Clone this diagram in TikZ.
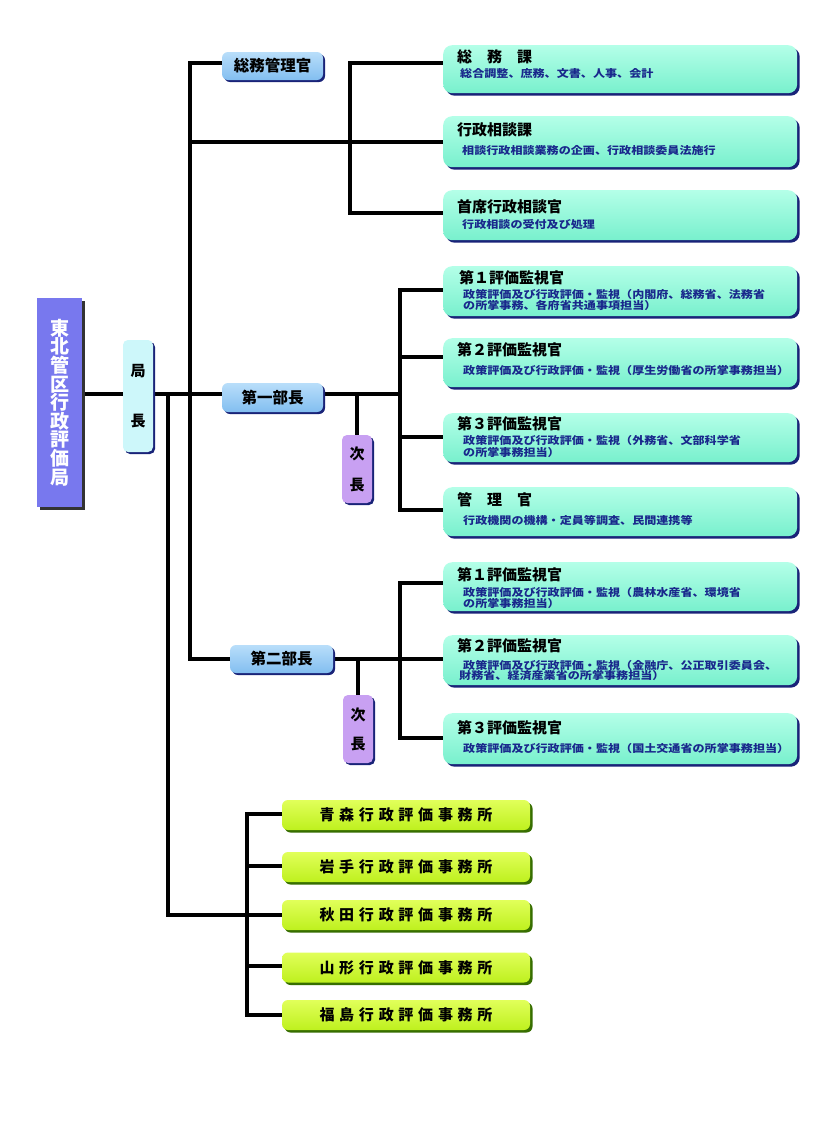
\documentclass[tikz,border=0pt]{standalone}
\usepackage{fontspec}
\setmainfont{Noto Sans CJK JP}
\newfontfamily\descfont[FakeStretch=1.15]{Noto Sans CJK JP}
\usetikzlibrary{shadows,calc,backgrounds}
\definecolor{navysh}{RGB}{25,35,120}
\definecolor{descblue}{RGB}{25,40,140}
\definecolor{tealtop}{RGB}{180,255,232}
\definecolor{tealbot}{RGB}{120,240,205}
\definecolor{bluetop}{RGB}{185,222,250}
\definecolor{bluebot}{RGB}{130,190,240}
\definecolor{kyokufill}{RGB}{205,247,250}
\definecolor{jifill}{RGB}{200,160,242}
\definecolor{tohokufill}{RGB}{120,120,238}
\definecolor{ygtop}{RGB}{225,255,90}
\definecolor{ygbot}{RGB}{190,240,30}
\definecolor{greensh}{RGB}{55,110,0}
\newcommand\ks{\kern4.75pt}
\begin{document}
\begin{tikzpicture}[x=1pt,y=-1pt,
  conn/.style={line width=3.2pt, line join=miter, line cap=rect},
  tealbox/.style={anchor=north west, rounded corners=9pt, top color=tealtop, bottom color=tealbot,
    minimum width=354pt, inner sep=0pt,
    drop shadow={shadow xshift=2.5pt, shadow yshift=-2.5pt, fill=navysh, opacity=1}},
  ttl/.style={anchor=west, inner sep=0pt, font=\fontsize{15}{15}\selectfont\bfseries},
  dsc/.style={anchor=west, inner sep=0pt, text=descblue, font=\descfont\fontsize{10.5}{10}\selectfont\bfseries},
  bluebox/.style={rounded corners=6pt, top color=bluetop, bottom color=bluebot, inner sep=0pt,
    font=\fontsize{15.5}{16}\selectfont\bfseries,
    drop shadow={shadow xshift=2pt, shadow yshift=-2pt, fill=navysh, opacity=1}},
  vbox/.style={rounded corners=5pt, inner sep=0pt, align=center, minimum width=30pt,
    font=\fontsize{15}{15}\selectfont\bfseries,
    drop shadow={shadow xshift=2pt, shadow yshift=-2pt, fill=navysh, opacity=1}},
  ygbox/.style={rounded corners=6pt, top color=ygtop, bottom color=ygbot, inner sep=0pt,
    minimum width=248pt, minimum height=30pt, font=\fontsize{15}{15}\selectfont\bfseries,
    drop shadow={shadow xshift=2.5pt, shadow yshift=-2.5pt, fill=greensh, opacity=1}}
]
\useasboundingbox (0,0) rectangle (820,1133);

% junction coordinates
\coordinate (m1) at (190,63);
\coordinate (m2) at (190,142);
\coordinate (m3) at (190,394);
\coordinate (m4) at (190,659);
\coordinate (v1) at (168,394);
\coordinate (v2) at (168,915);
\coordinate (s1) at (350,63);
\coordinate (s2) at (350,213);
\coordinate (b1) at (400,290);
\coordinate (b2) at (400,357);
\coordinate (b3) at (400,394);
\coordinate (b4) at (400,437);
\coordinate (b5) at (400,510);
\coordinate (j1) at (357,394);
\coordinate (c1) at (400,583);
\coordinate (c2) at (400,659);
\coordinate (c3) at (400,738);
\coordinate (j2) at (358,659);
\coordinate (d1) at (247,814);
\coordinate (d2) at (247,866);
\coordinate (d3) at (247,915);
\coordinate (d4) at (247,966);
\coordinate (d5) at (247,1015);

% nodes (boxes)
\node[fill=tohokufill, minimum width=45pt, minimum height=209pt, inner sep=0pt, align=center,
  text=white, font=\fontsize{19}{18.6}\selectfont\bfseries,
  drop shadow={shadow xshift=3pt, shadow yshift=-3pt, fill=black!80, opacity=1}]
  (tohoku) at (59.5,402.5) {東\\北\\管\\区\\行\\政\\評\\価\\局};
\node[vbox, fill=kyokufill, minimum height=112pt, font=\fontsize{15}{50}\selectfont\bfseries] (kyoku) at (138,396) {局\\長};
\node[bluebox, minimum width=101pt, minimum height=28pt] (somu) at (272.5,66) {総務管理官};
\node[bluebox, minimum width=101pt, minimum height=29pt] (bu1) at (272.5,397.5) {第一部長};
\node[bluebox, minimum width=103pt, minimum height=28pt] (bu2) at (281.5,659) {第二部長};
\node[vbox, fill=jifill, minimum height=68pt, font=\fontsize{15}{31}\selectfont\bfseries] (ji1) at (357,469) {次\\長};
\node[vbox, fill=jifill, minimum height=68pt, font=\fontsize{15}{29}\selectfont\bfseries] (ji2) at (358,729) {次\\長};

\node[tealbox, minimum height=48pt] (k1) at (443,45) {};
\node[tealbox, minimum height=51pt] (k2) at (443,116) {};
\node[tealbox, minimum height=50pt] (k3) at (443,190) {};
\node[tealbox, minimum height=50pt] (k4) at (443,266) {};
\node[tealbox, minimum height=49pt] (k5) at (443,338) {};
\node[tealbox, minimum height=49pt] (k6) at (443,413) {};
\node[tealbox, minimum height=49pt] (k7) at (443,487) {};
\node[tealbox, minimum height=49pt] (k8) at (443,562) {};
\node[tealbox, minimum height=50pt] (k9) at (443,635) {};
\node[tealbox, minimum height=51pt] (k10) at (443,713) {};

\node[ygbox] (y1) at (406,815) {青\ks 森\ks 行\ks 政\ks 評\ks 価\ks 事\ks 務\ks 所};
\node[ygbox] (y2) at (406,867) {岩\ks 手\ks 行\ks 政\ks 評\ks 価\ks 事\ks 務\ks 所};
\node[ygbox] (y3) at (406,915) {秋\ks 田\ks 行\ks 政\ks 評\ks 価\ks 事\ks 務\ks 所};
\node[ygbox] (y4) at (406,967.5) {山\ks 形\ks 行\ks 政\ks 評\ks 価\ks 事\ks 務\ks 所};
\node[ygbox] (y5) at (406,1015) {福\ks 島\ks 行\ks 政\ks 評\ks 価\ks 事\ks 務\ks 所};

% texts in teal boxes
\node[ttl] (k1t) at (457,57) {総　務　課};
\node[dsc] (k1d) at (460,74) {総合調整、庶務、文書、人事、会計};
\node[ttl] (k2t) at (457,130) {行政相談課};
\node[dsc] (k2d) at (462,150) {相談行政相談業務の企画、行政相談委員法施行};
\node[ttl] (k3t) at (457,207) {首席行政相談官};
\node[dsc] (k3d) at (462,225) {行政相談の受付及び処理};
\node[ttl] (k4t) at (459,278) {第１評価監視官};
\node[dsc] (k4d) at (463,294) {政策評価及び行政評価・監視（内閣府、総務省、法務省};
\node[dsc] (k4e) at (463,305) {の所掌事務、各府省共通事項担当）};
\node[ttl] (k5t) at (457,350) {第２評価監視官};
\node[dsc] (k5d) at (463,370) {政策評価及び行政評価・監視（厚生労働省の所掌事務担当）};
\node[ttl] (k6t) at (457,424) {第３評価監視官};
\node[dsc] (k6d) at (463,440) {政策評価及び行政評価・監視（外務省、文部科学省};
\node[dsc] (k6e) at (463,452) {の所掌事務担当）};
\node[ttl] (k7t) at (457,500) {管　理　官};
\node[dsc] (k7d) at (463,520) {行政機関の機構・定員等調査、民間連携等};
\node[ttl] (k8t) at (457,575) {第１評価監視官};
\node[dsc] (k8d) at (463,592) {政策評価及び行政評価・監視（農林水産省、環境省};
\node[dsc] (k8e) at (463,603) {の所掌事務担当）};
\node[ttl] (k9t) at (457,646) {第２評価監視官};
\node[dsc] (k9d) at (463,665) {政策評価及び行政評価・監視（金融庁、公正取引委員会、};
\node[dsc] (k9e) at (459,676) {財務省、経済産業省の所掌事務担当）};
\node[ttl] (k10t) at (457,728) {第３評価監視官};
\node[dsc] (k10d) at (463,748) {政策評価及び行政評価・監視（国土交通省の所掌事務担当）};

% connectors (behind boxes)
\begin{scope}[on background layer]
\fill[white] (0,0) rectangle (820,1133);
\draw[conn] (tohoku.east |- m3) -- (kyoku.west |- m3);
\draw[conn] (kyoku.east |- m3) -- (v1) -- (m3) -- (bu1.west |- m3);
\draw[conn] (somu.west |- m1) -- (m1) -- (m4) -- (bu2.west |- m4);
\draw[conn] (m2) -- (k2.west |- m2);
\draw[conn] (k1.west |- s1) -- (s1) -- (s2) -- (k3.west |- s2);
\draw[conn] (bu1.east |- b3) -- (b3);
\draw[conn] (k4.west |- b1) -- (b1) -- (b5) -- (k7.west |- b5);
\draw[conn] (b2) -- (k5.west |- b2);
\draw[conn] (b4) -- (k6.west |- b4);
\draw[conn] (j1) -- (ji1.north);
\draw[conn] (bu2.east |- c2) -- (c2) -- (k9.west |- c2);
\draw[conn] (k8.west |- c1) -- (c1) -- (c3) -- (k10.west |- c3);
\draw[conn] (j2) -- (ji2.north);
\draw[conn] (v1) -- (v2) -- (d3) -- (y3.west);
\draw[conn] (y1.west |- d1) -- (d1) -- (d5) -- (y5.west |- d5);
\draw[conn] (d2) -- (y2.west |- d2);
\draw[conn] (d4) -- (y4.west |- d4);
\end{scope}
\end{tikzpicture}
\end{document}
